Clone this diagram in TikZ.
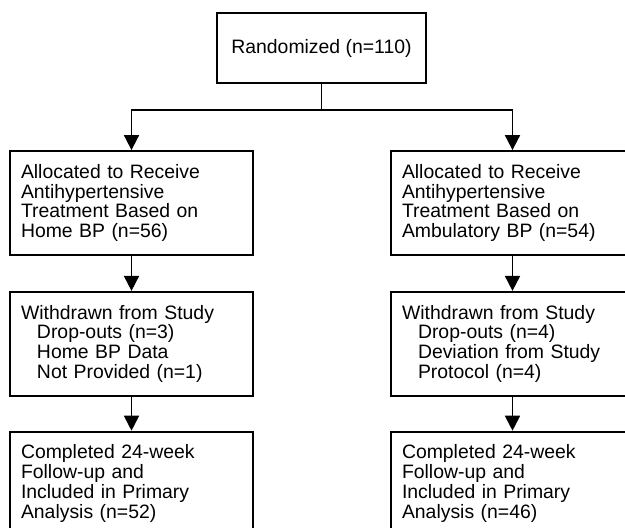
\documentclass[tikz,border=0pt]{standalone}
\usepackage{fontspec}
\setmainfont{Liberation Sans}
\usetikzlibrary{arrows.meta, positioning}
\tikzset{
  box/.style={rectangle, draw=black, line width=1.8pt, text width=221pt, minimum height=104pt, inner xsep=11pt, align=left, font=\fontsize{19.4}{19.8}\selectfont},
  randbox/.style={rectangle, draw=black, line width=1.8pt, minimum width=209pt, minimum height=70pt, align=center, font=\fontsize{19.4}{19.8}\selectfont},
  link/.style={line width=1.8pt},
  arrow/.style={line width=1.8pt, -{Triangle[length=15pt, width=15pt]}}
}
\newcommand{\ind}{\hspace*{16pt}}

\begin{document}
\begin{tikzpicture}[x=1pt, y=1pt, node distance=35pt]
  \useasboundingbox (0,0) rectangle (625,-528);

  \node (rand) [randbox] at (321.5,-48) {Randomized (n=110)};
  \coordinate [below=26pt of rand.south] (split);

  \node (homealloc) [box] at (131.5,-203) {Allocated to Receive\\ Antihypertensive\\ Treatment Based on\\ Home BP (n=56)};
  \node (homeout) [box, below=of homealloc] {Withdrawn from Study\\ \ind Drop-outs (n=3)\\ \ind Home BP Data\\ \ind Not Provided (n=1)};
  \node (homedone) [box, below=34pt of homeout] {Completed 24-week\\ Follow-up and\\ Included in Primary\\ Analysis (n=52)};

  \node (amballoc) [box] at (512.5,-203) {Allocated to Receive\\ Antihypertensive\\ Treatment Based on\\ Ambulatory BP (n=54)};
  \node (ambout) [box, below=of amballoc] {Withdrawn from Study\\ \ind Drop-outs (n=4)\\ \ind Deviation from Study\\ \ind Protocol (n=4)};
  \node (ambdone) [box, below=34pt of ambout] {Completed 24-week\\ Follow-up and\\ Included in Primary\\ Analysis (n=46)};

  \draw [link] (rand) -- (split);
  \draw [arrow] (split) -| (homealloc);
  \draw [arrow] (split) -| (amballoc);
  \draw [arrow] (homealloc) -- (homeout);
  \draw [arrow] (homeout) -- (homedone);
  \draw [arrow] (amballoc) -- (ambout);
  \draw [arrow] (ambout) -- (ambdone);

\end{tikzpicture}
\end{document}
